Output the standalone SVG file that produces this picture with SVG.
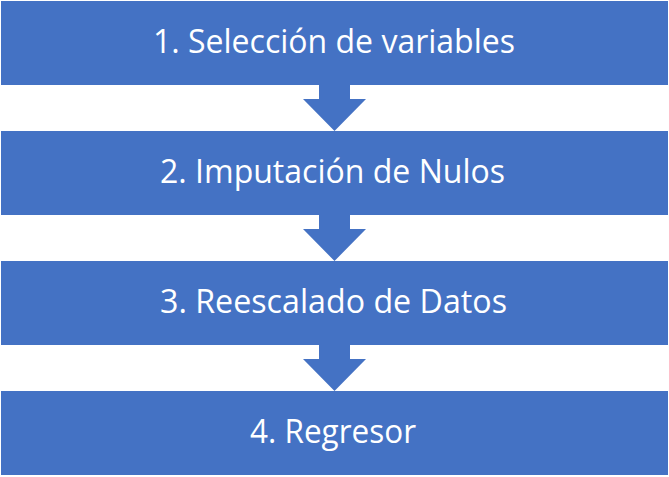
<svg xmlns="http://www.w3.org/2000/svg" width="669" height="477" viewBox="0 0 669 477">
<style>
.box{fill:#4472C4;}
.arr{fill:#4472C4;}
.lbl{font-family:"Open Sans","Liberation Sans",sans-serif;font-size:32px;fill:#FFFFFF;}
</style>
<rect width="669" height="477" fill="#FFFFFF"/>
<g id="connectors">
<polygon class="arr" points="319,85 350,85 350,99 366,99 334.5,131 303,99 319,99"/>
<polygon class="arr" points="319,215 350,215 350,229 366,229 334.5,261 303,229 319,229"/>
<polygon class="arr" points="319,345 350,345 350,359 366,359 334.5,391 303,359 319,359"/>
</g>
<g id="node1"><rect class="box" x="1" y="1" width="667" height="84"/><text class="lbl" x="153" y="53.3" textLength="362" lengthAdjust="spacingAndGlyphs">1. Selección de variables</text></g>
<g id="node2"><rect class="box" x="1" y="131" width="667" height="84"/><text class="lbl" x="160" y="183.3" textLength="345" lengthAdjust="spacingAndGlyphs">2. Imputación de Nulos</text></g>
<g id="node3"><rect class="box" x="1" y="261" width="667" height="84"/><text class="lbl" x="160" y="313.3" textLength="347" lengthAdjust="spacingAndGlyphs">3. Reescalado de Datos</text></g>
<g id="node4"><rect class="box" x="1" y="391" width="667" height="84"/><text class="lbl" x="250" y="443.3" textLength="166" lengthAdjust="spacingAndGlyphs">4. Regresor</text></g>
</svg>
